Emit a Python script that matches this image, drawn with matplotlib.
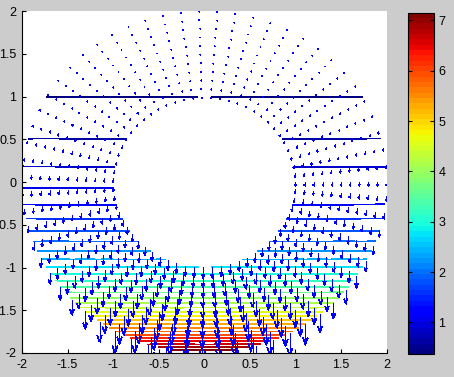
import numpy as np
import matplotlib
matplotlib.use("Agg")
import matplotlib.pyplot as plt
from matplotlib.collections import LineCollection
from matplotlib.colors import ListedColormap, Normalize
from matplotlib.cm import ScalarMappable

# polar grid of the annulus (radius 1..2, spokes every 0.1 rad)
radii = [1.0, 1.1, 1.2, 1.3, 1.4, 1.5, 1.6, 1.7, 1.8, 1.9, 2.0]
spoke_step = 0.1
n_levels = 30
x_ticks = [-2, -1.5, -1, -0.5, 0, 0.5, 1, 1.5, 2]
y_ticks = [-2, -1.5, -1, -0.5, 0, 0.5, 1, 1.5, 2]
cbar_ticks = [1, 2, 3, 4, 5, 6, 7]

plt.rcParams['font.family'] = ['Liberation Sans', 'DejaVu Sans']
plt.rcParams['font.size'] = 9

theta = np.arange(0, 2 * np.pi, spoke_step)
R, T = np.meshgrid(radii, theta, indexing='ij')
X = R * np.cos(T)
Y = R * np.sin(T)

# potential and its (downward) flow field
Z = np.exp(-Y)
U = np.zeros_like(Z)
V = -np.exp(-Y)


def matlab_levels(z, n):
    """Contour levels the way contour(z, n) picks them."""
    lev = np.linspace(z.min(), z.max(), n + 2)
    return lev[1:-1]


def matlab_quiver(ax, x, y, u, v, color='b', lw=1.0):
    """Draw arrows as lines with MATLAB-style autoscale and heads."""
    m, n = x.shape
    delx = (x.max() - x.min()) / n
    dely = (y.max() - y.min()) / m
    dl = delx ** 2 + dely ** 2
    maxlen = np.sqrt((u ** 2 + v ** 2) / dl).max()
    s = 0.9 / maxlen
    u, v = u * s, v * s
    alpha, beta, eps = 0.33, 0.33, 2.2e-16
    segs = []
    for xi, yi, ui, vi in zip(x.ravel(), y.ravel(), u.ravel(), v.ravel()):
        segs.append([(xi, yi), (xi + ui, yi + vi)])
        segs.append([(xi + ui - alpha * (ui + beta * (vi + eps)),
                      yi + vi - alpha * (vi - beta * (ui + eps))),
                     (xi + ui, yi + vi),
                     (xi + ui - alpha * (ui - beta * (vi + eps)),
                      yi + vi - alpha * (vi + beta * (ui + eps)))])
    lc = LineCollection(segs, colors=color, linewidths=lw,
                        antialiaseds=False)
    lc.set_capstyle('butt')
    lc.set_joinstyle('miter')
    ax.add_collection(lc)


fig = plt.figure(figsize=(4.54, 3.77), dpi=100)
fig.patch.set_facecolor('#cccccc')
ax = fig.add_axes([0.0485, 0.0637, 0.803, 0.907])

levels = matlab_levels(Z, n_levels)
cmap = ListedColormap(plt.get_cmap('jet')(np.linspace(0, 1, 64)))
norm = Normalize(vmin=levels[0], vmax=levels[-1])
ax.contour(X, Y, Z, levels=levels, cmap=cmap, norm=norm, linewidths=0.6,
           antialiased=False)
matlab_quiver(ax, X, Y, U, V, lw=0.5)

ax.set_xlim(-2, 2)
ax.set_ylim(-2, 2)
ax.set_xticks(x_ticks)
ax.set_yticks(y_ticks)
ax.set_xticklabels([f'{t:g}' for t in x_ticks])
ax.set_yticklabels([f'{t:g}' for t in y_ticks])
ax.tick_params(direction='in', length=3, width=0.8, pad=4, colors='black')
for side in ('top', 'right'):
    ax.spines[side].set_visible(False)

cax = fig.add_axes([0.899, 0.0605, 0.0573, 0.906])
sm = ScalarMappable(norm=norm, cmap=cmap)
cb = fig.colorbar(sm, cax=cax, ticks=cbar_ticks)
cb.outline.set_linewidth(0.8)
cax.tick_params(direction='in', length=3, width=0.8, pad=3, left=True)

fig.savefig('out.png', dpi=100, facecolor=fig.get_facecolor())
